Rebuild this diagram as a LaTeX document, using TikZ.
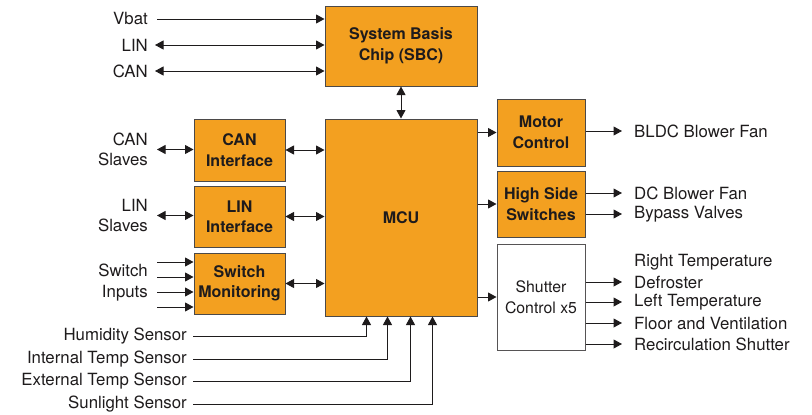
\documentclass[tikz,border=0pt]{standalone}
\usepackage{fontspec}
\setmainfont{TeX Gyre Heros}
\usetikzlibrary{arrows.meta,positioning}
\definecolor{sbcorange}{RGB}{243,160,32}
\definecolor{inkgray}{RGB}{30,27,28}

\begin{document}
\begin{tikzpicture}[x=1pt, y=-1pt,
  every node/.style={font=\fontsize{16.8}{20.5}\selectfont, text=inkgray, align=center, inner sep=0pt},
  block/.style={rectangle, draw=inkgray!80, line width=1pt, fill=sbcorange, font=\fontsize{16}{20.5}\selectfont\bfseries},
  plainblock/.style={rectangle, draw=inkgray!75, line width=1pt, fill=white, font=\fontsize{15.8}{21}\selectfont},
  lbl/.style={align=right, anchor=east},
  outlbl/.style={align=left, anchor=west},
  arrow/.style={-{Triangle[length=8.5pt,width=9pt]}, line width=1pt, draw=inkgray},
  dblarrow/.style={{Triangle[length=8.5pt,width=9pt]}-{Triangle[length=8.5pt,width=9pt]}, line width=1pt, draw=inkgray}
]

\useasboundingbox (0,0) rectangle (812,415);

% blocks
\node[block, minimum width=152pt, minimum height=80pt] (sbc) at (401,46) {System Basis\\Chip (SBC)};
\node[block, minimum width=152pt, minimum height=197pt] (mcu) at (401,217.5) {MCU};
\node[block, minimum width=91pt, minimum height=62pt] (canif) at (239.5,150) {CAN\\Interface};
\node[block, minimum width=91pt, minimum height=61pt] (linif) at (239.5,216.5) {LIN\\Interface};
\node[block, minimum width=91pt, minimum height=61pt] (swmon) at (239.5,283.5) {Switch\\Monitoring};
\node[block, minimum width=88pt, minimum height=67pt] (motor) at (541,132.5) {Motor\\Control};
\node[block, minimum width=88pt, minimum height=66pt] (hss) at (541,204) {High Side\\Switches};
\node[plainblock, minimum width=88pt, minimum height=106pt] (shutter) at (541,297) {Shutter\\Control x5};

% SBC inputs
\node[lbl] (vbat) at (148,19) {Vbat};
\node[lbl] (lin) at (148,45) {LIN};
\node[lbl] (can) at (148,71) {CAN};
\draw[arrow] ([xshift=9pt]vbat.east) -- (vbat -| sbc.west);
\draw[dblarrow] ([xshift=7pt]lin.east) -- (lin -| sbc.west);
\draw[dblarrow] ([xshift=7pt]can.east) -- (can -| sbc.west);
\draw[dblarrow] (sbc) -- (mcu);

% slaves and switches
\node[lbl] (canslv) at (148,149.5) {CAN\\Slaves};
\node[lbl] (linslv) at (148,215.5) {LIN\\Slaves};
\node[lbl] (swin) at (148,282.5) {Switch\\Inputs};
\draw[dblarrow] ([xshift=9pt]canslv.east) -- (canslv -| canif.west);
\draw[dblarrow] ([xshift=9pt]linslv.east) -- (linslv -| linif.west);
\foreach \y in {262,277,292,307} {
  \coordinate (sw\y) at (157,\y);
  \draw[arrow] (sw\y) -- (sw\y -| swmon.west);
}
\draw[dblarrow] (canif.east) -- (canif.east -| mcu.west);
\draw[dblarrow] (linif.east) -- (linif.east -| mcu.west);
\draw[dblarrow] (swmon.east) -- (swmon.east -| mcu.west);

% sensors
\node[lbl] (hum) at (187,336) {Humidity Sensor};
\node[lbl] (itemp) at (187,359) {Internal Temp Sensor};
\node[lbl] (etemp) at (187,381) {External Temp Sensor};
\node[lbl] (sun) at (187,404) {Sunlight Sensor};
\draw[arrow] ([xshift=6pt]hum.east) -| ([xshift=42pt]mcu.south west);
\draw[arrow] ([xshift=6pt]itemp.east) -| ([xshift=63pt]mcu.south west);
\draw[arrow] ([xshift=6pt]etemp.east) -| ([xshift=86pt]mcu.south west);
\draw[arrow] ([xshift=6pt]sun.east) -| ([xshift=108pt]mcu.south west);

% outputs
\draw[arrow] (mcu.east |- motor.west) -- (motor.west);
\draw[arrow] (mcu.east |- hss.west) -- (hss.west);
\draw[arrow] (mcu.east |- shutter.west) -- (shutter.west);

\node[outlbl] (bldc) at (634,131) {BLDC Blower Fan};
\node[outlbl] (dcfan) at (634,193) {DC Blower Fan};
\node[outlbl] (bypass) at (634,214) {Bypass Valves};
\node[outlbl] (rtemp) at (634,262) {Right Temperature};
\node[outlbl] (defrost) at (634,282) {Defroster};
\node[outlbl] (ltemp) at (634,302) {Left Temperature};
\node[outlbl] (floor) at (634,323) {Floor and Ventilation};
\node[outlbl] (recirc) at (634,344) {Recirculation Shutter};

\draw[arrow] (motor.east |- bldc) -- ([xshift=-12pt]bldc.west);
\draw[arrow] (hss.east |- dcfan) -- ([xshift=-12pt]dcfan.west);
\draw[arrow] (hss.east |- bypass) -- ([xshift=-12pt]bypass.west);
\draw[arrow] (shutter.east |- defrost) -- ([xshift=-12pt]defrost.west);
\draw[arrow] (shutter.east |- ltemp) -- ([xshift=-12pt]ltemp.west);
\draw[arrow] (shutter.east |- floor) -- ([xshift=-12pt]floor.west);
\draw[arrow] (shutter.east |- recirc) -- ([xshift=-12pt]recirc.west);

\end{tikzpicture}
\end{document}
